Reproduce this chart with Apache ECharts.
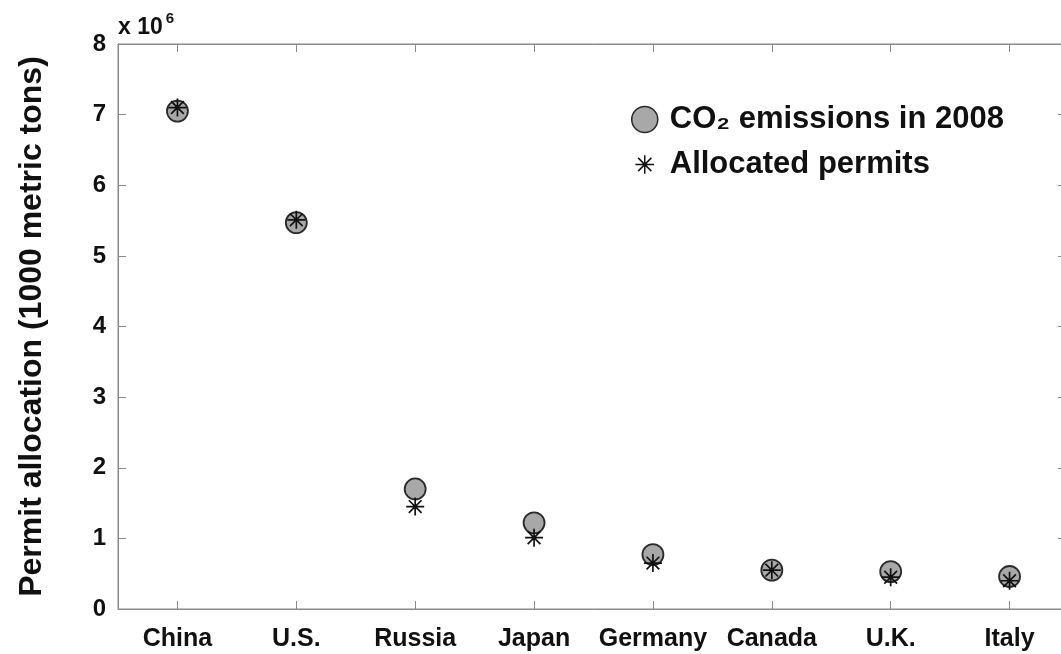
<!DOCTYPE html>
<html>
<head>
<meta charset="utf-8">
<script src="https://cdn.jsdelivr.net/npm/echarts@6/dist/echarts.min.js"></script>
<style>html,body{margin:0;padding:0;background:#fff;overflow:hidden;width:1061px;height:654px;}#c{width:1072px;height:654px;}</style>
</head>
<body>
<div id="c"></div>
<script>
// Data (values in units of 10^6 × 1000 metric tons)
const countries = ['China', 'U.S.', 'Russia', 'Japan', 'Germany', 'Canada', 'U.K.', 'Italy'];
const emissions2008 = [7.05, 5.47, 1.70, 1.22, 0.77, 0.55, 0.53, 0.46];
const allocatedPermits = [7.10, 5.51, 1.45, 1.01, 0.65, 0.55, 0.45, 0.40];
const yTicks = [0, 1, 2, 3, 4, 5, 6, 7, 8];

const FONT = '"Liberation Sans", Arial, Helvetica, sans-serif';
const AXIS_COLOR = '#8a8a8a';
const ASTERISK = 'path://M0,-10L0,10M-10,0L10,0M-7.07,-7.07L7.07,7.07M-7.07,7.07L7.07,-7.07' +
  'M-13.9,-13.9L-13.89,-13.9M13.9,13.9L13.89,13.9';

const chart = echarts.init(document.getElementById('c'), null, {renderer: 'canvas'});

const axisCommon = {
  axisLine: {show: true, onZero: false, lineStyle: {color: AXIS_COLOR, width: 1}},
  splitLine: {show: false}
};

chart.setOption({
  backgroundColor: '#fff',
  animation: false,
  grid: {left: 118, top: 44, width: 951, height: 565, containLabel: false,
         show: true, borderColor: AXIS_COLOR, borderWidth: 1, backgroundColor: 'transparent'},
  xAxis: [
    Object.assign({
      type: 'category', data: countries, position: 'bottom', boundaryGap: true,
      axisTick: {show: true, inside: true, length: 8, alignWithLabel: true, lineStyle: {color: AXIS_COLOR}},
      axisLabel: {fontFamily: FONT, fontWeight: 'bold', fontSize: 25, color: '#111', margin: 18, interval: 0}
    }, axisCommon),
    Object.assign({
      type: 'category', data: countries, position: 'top', boundaryGap: true,
      axisTick: {show: true, inside: true, length: 8, alignWithLabel: true, interval: 0, lineStyle: {color: AXIS_COLOR}},
      axisLabel: {show: false, interval: 0}
    }, axisCommon)
  ],
  yAxis: [
    Object.assign({
      type: 'value', min: yTicks[0], max: yTicks[yTicks.length - 1], interval: 1, position: 'left',
      name: 'Permit allocation (1000 metric tons)', nameLocation: 'middle', nameRotate: 90, nameGap: 70,
      nameTextStyle: {fontFamily: FONT, fontWeight: 'bold', fontSize: 32, color: '#111'},
      axisTick: {show: true, inside: true, length: 8, lineStyle: {color: AXIS_COLOR}},
      axisLabel: {fontFamily: FONT, fontWeight: 'bold', fontSize: 24, color: '#111', margin: 12}
    }, axisCommon),
    Object.assign({
      type: 'value', min: yTicks[0], max: yTicks[yTicks.length - 1], interval: 1, position: 'right',
      axisTick: {show: true, inside: true, length: 11, lineStyle: {color: AXIS_COLOR}},
      axisLabel: {show: false}
    }, axisCommon)
  ],
  legend: {
    orient: 'vertical', left: 626, top: 99,
    itemWidth: 26, itemHeight: 26, itemGap: 14,
    textStyle: {fontFamily: FONT, fontWeight: 'bold', fontSize: 31, color: '#111', lineHeight: 31, padding: [0, 0, 0, 7]},
    data: [
      {name: 'CO\u2082 emissions in 2008', icon: 'circle', itemStyle: {color: '#a8a8a8', borderColor: '#2a2a2a', borderWidth: 1.5}},
      {name: 'Allocated permits', icon: ASTERISK, itemStyle: {color: 'rgba(0,0,0,0)', borderColor: '#111', borderWidth: 1.5}}
    ]
  },
  graphic: [
    {
      type: 'text', left: 118, top: 11,
      style: {
        text: '{a|x 10}{s|6}', fontFamily: FONT,
        rich: {
          a: {fontFamily: FONT, fontWeight: 'bold', fontSize: 23, fill: '#111', verticalAlign: 'bottom', lineHeight: 28},
          s: {fontFamily: FONT, fontWeight: 'bold', fontSize: 15, fill: '#111', verticalAlign: 'top', lineHeight: 28, padding: [0, 0, 9, 3]}
        }
      }
    }
  ],
  series: [
    {
      name: 'CO\u2082 emissions in 2008', type: 'scatter', xAxisIndex: 0, yAxisIndex: 0,
      data: emissions2008, symbol: 'circle', symbolSize: 21,
      itemStyle: {color: '#a8a8a8', borderColor: '#2a2a2a', borderWidth: 1.8, opacity: 1},
      emphasis: {disabled: true}
    },
    {
      name: 'Allocated permits', type: 'scatter', xAxisIndex: 0, yAxisIndex: 0,
      data: allocatedPermits, symbol: ASTERISK, symbolSize: 25,
      itemStyle: {color: 'rgba(0,0,0,0)', borderColor: '#111', borderWidth: 1.7, opacity: 1},
      emphasis: {disabled: true}
    },
    {
      name: '_frame', type: 'scatter', xAxisIndex: 1, yAxisIndex: 1,
      data: [], silent: true
    }
  ]
});
</script>
</body>
</html>
